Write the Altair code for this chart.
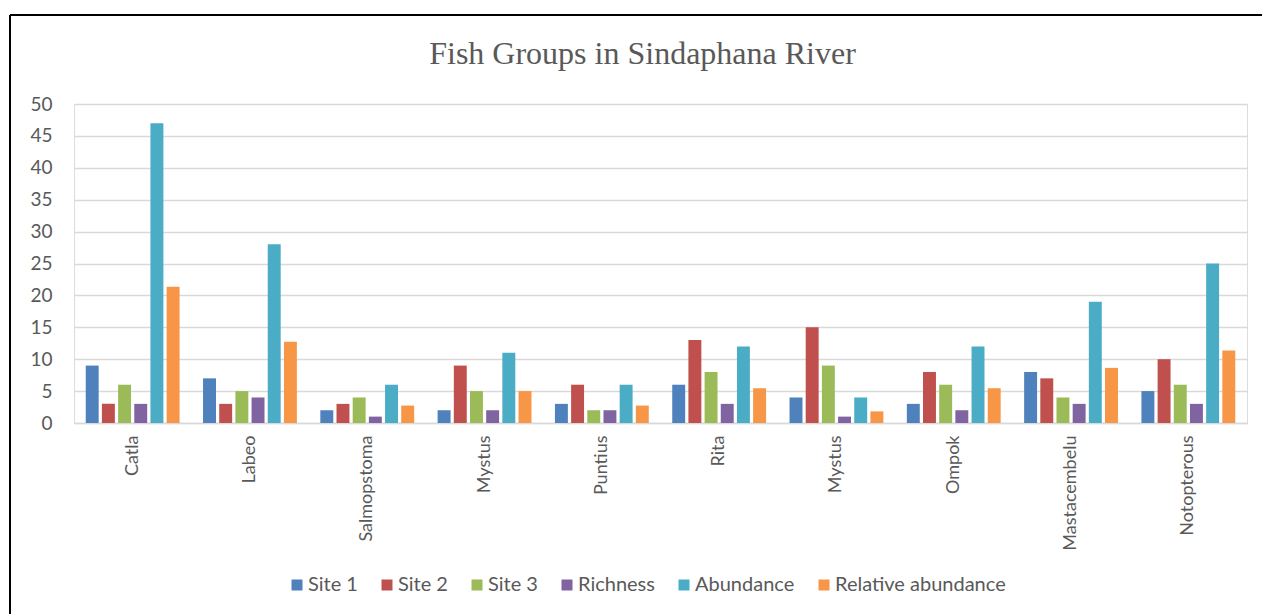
import altair as alt
import pandas as pd

groups = ["Catla", "Labeo", "Salmopstoma", "Mystus", "Puntius", "Rita", "Mystus",
          "Ompok", "Mastacembelu", "Notopterous"]
series = ["Site 1", "Site 2", "Site 3", "Richness", "Abundance", "Relative abundance"]
colors = ["#4F81BD", "#C0504D", "#9BBB59", "#8064A2", "#4BACC6", "#F79646"]
title_text = "Fish Groups in Sindaphana River"

site1 = [9, 7, 2, 2, 3, 6, 4, 3, 8, 5]
site2 = [3, 3, 3, 9, 6, 13, 15, 8, 7, 10]
site3 = [6, 5, 4, 5, 2, 8, 9, 6, 4, 6]
richness = [3, 4, 1, 2, 2, 3, 1, 2, 3, 3]
abundance = [47, 28, 6, 11, 6, 12, 4, 12, 19, 25]
rel_abundance = [21.36, 12.73, 2.73, 5.0, 2.73, 5.45, 1.82, 5.45, 8.64, 11.36]

values = [site1, site2, site3, richness, abundance, rel_abundance]
rows = []
for s, vals in zip(series, values):
    for i, v in enumerate(vals):
        rows.append({"idx": str(i), "series": s, "value": v})
df = pd.DataFrame(rows)

label_expr = "[" + ",".join("'" + g + "'" for g in groups) + "][toNumber(datum.value)]"
FONT = "Lato"
GRAY = "#595959"

bars = alt.Chart(df).mark_bar().encode(
    x=alt.X("idx:N", sort=[str(i) for i in range(len(groups))],
            scale=alt.Scale(paddingInner=0.2, paddingOuter=0.1),
            axis=alt.Axis(title=None, labelAngle=-90, labelExpr=label_expr,
                          labelFont=FONT, labelFontSize=18, labelColor=GRAY,
                          labelPadding=12, ticks=False, domainColor="#D9D9D9",
                          domainWidth=1.5)),
    xOffset=alt.XOffset("series:N", sort=series, scale=alt.Scale(paddingInner=0.2)),
    y=alt.Y("value:Q", scale=alt.Scale(domain=[0, 50], nice=False),
            axis=alt.Axis(title=None, values=list(range(0, 55, 5)), labelFont=FONT,
                          labelFontSize=19, labelColor=GRAY, labelPadding=22,
                          ticks=False, domain=False, gridColor="#D9D9D9",
                          gridWidth=1.5)),
    color=alt.Color("series:N", sort=series,
                    scale=alt.Scale(domain=series, range=colors),
                    legend=alt.Legend(title=None, orient="none", direction="horizontal",
                                      legendX=213, legendY=471, columns=6,
                                      symbolType="square", symbolSize=121,
                                      symbolStrokeWidth=0, labelFont=FONT,
                                      labelFontSize=20, labelColor=GRAY,
                                      labelLimit=0, columnPadding=19, labelOffset=1,
                                      padding=0)),
)

title = alt.Chart(pd.DataFrame({"t": [title_text]})).mark_text(
    font="Liberation Serif", fontSize=32, color=GRAY, align="center",
    baseline="alphabetic").encode(x=alt.value(568.5), y=alt.value(-40), text="t:N")

frame_v = alt.Chart(pd.DataFrame({"k": [0]})).mark_rule(color="black", strokeWidth=2).encode(
    x=alt.value(-64), y=alt.value(-89), y2=alt.value(520))
frame_h = alt.Chart(pd.DataFrame({"k": [0]})).mark_rule(color="black", strokeWidth=2).encode(
    x=alt.value(-64), x2=alt.value(1200), y=alt.value(-89))

chart = alt.layer(bars, title, frame_v, frame_h).properties(
    width=1173, height=319,
    autosize=alt.AutoSizeParams(type="none"),
    padding={"left": 74, "top": 104, "right": 15, "bottom": 191},
).configure_view(stroke=None).configure(background="white")

chart.save("out.html", embed_options={"renderer": "svg", "actions": False})
